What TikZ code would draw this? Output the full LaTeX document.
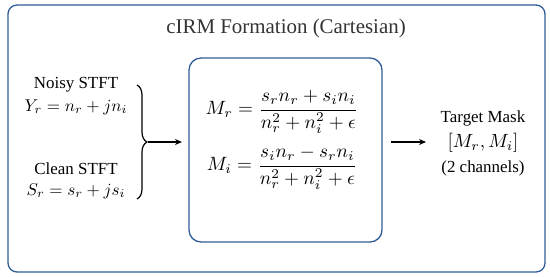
\documentclass[tikz,border=0pt]{standalone}
\usepackage{amsmath}
\usepackage{fontspec}
\setmainfont{Liberation Serif}
\usetikzlibrary{decorations.pathreplacing,arrows.meta}
\definecolor{boxblue}{HTML}{2F5C97}
\definecolor{titlegray}{HTML}{333333}
\tikzset{
  frame/.style={draw=boxblue, line width=1.3pt, rounded corners=9bp},
  txt/.style={inner sep=0pt, font=\rmfamily\fontsize{17}{20}\selectfont, text=black},
  eq/.style={inner sep=0pt, font=\fontsize{10}{12}\selectfont, scale=1.71},
  eqf/.style={inner sep=0pt, font=\fontsize{10}{12}\selectfont, scale=1.93},
  flow/.style={-{Stealth[length=7bp,width=6bp]}, line width=1.4pt},
}
\begin{document}
\begin{tikzpicture}[x=1bp,y=-1bp]
\useasboundingbox (0,0) rectangle (550,276);
\draw[frame] (8,5) rectangle (545,272);
\node[inner sep=0pt, font=\rmfamily\fontsize{21}{24}\selectfont, text=titlegray] (title) at (286,28) {cIRM Formation (Cartesian)};
\draw[frame, rounded corners=12bp] (189,58) rectangle (382,242);
\node[txt] (noisyT) at (76,85) {Noisy STFT};
\node[eq] (noisyE) at (76,107) {$Y_r = n_r + jn_i$};
\node[txt] (cleanT) at (76,169) {Clean STFT};
\node[eq] (cleanE) at (76,191) {$S_r = s_r + js_i$};
\coordinate (bt) at (137,85);
\coordinate (bb) at (137,199);
\draw[line width=1.2pt, decorate, decoration={brace, amplitude=10bp}] (bt) -- (bb);
\coordinate (bm) at (148,142);
\coordinate (bin) at (182,142);
\draw[flow] (bm) -- (bin);
\node[eqf] (mr) at (282,112) {$M_r = \dfrac{s_r n_r + s_i n_i}{n_r^2 + n_i^2 + \epsilon}$};
\node[eqf] (mi) at (282,168) {$M_i = \dfrac{s_i n_r - s_r n_i}{n_r^2 + n_i^2 + \epsilon}$};
\coordinate (aout) at (391,142);
\coordinate (ain) at (426,142);
\draw[flow] (aout) -- (ain);
\node[txt] (tm) at (483,118) {Target Mask};
\node[eq, scale=1.12] (tmv) at (483,143) {$[M_r, M_i]$};
\node[txt] (tmc) at (483,168) {(2 channels)};
\end{tikzpicture}
\end{document}
